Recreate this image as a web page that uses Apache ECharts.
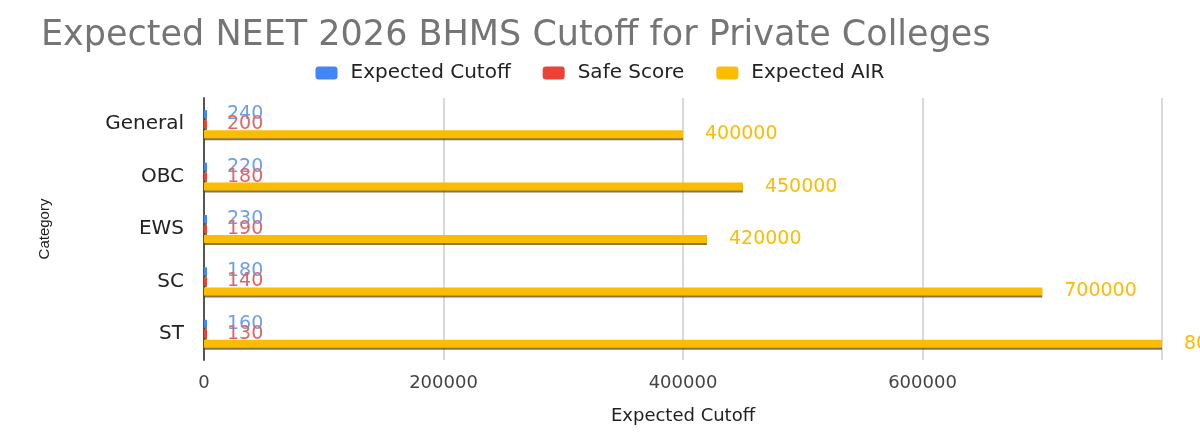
<!DOCTYPE html>
<html>
<head>
<meta charset="utf-8">
<script src="https://cdn.jsdelivr.net/npm/echarts@6/dist/echarts.min.js"></script>
<style>
  * { margin: 0; padding: 0; }
  body { background: #fff; }
</style>
</head>
<body>
<!-- chart container -->
<div id="main" style="width: 1200px;height: 442px;"></div>
<script>
  var categories = ['General', 'OBC', 'EWS', 'SC', 'ST'];
  var expectedCutoff = [240, 220, 230, 180, 160];
  var safeScore = [200, 180, 190, 140, 130];
  var expectedAIR = [400000, 450000, 420000, 700000, 800000];
  var xTicks = [0, 200000, 400000, 600000, 800000];

  var font = 'DejaVu Sans';

  function barSeries(name, data, color, labelColor, dist) {
    return {
      name: name,
      type: 'bar',
      data: data,
      barWidth: 8,
      barGap: '25%',
      barMinHeight: 3,
      itemStyle: {
        color: color,
        shadowColor: 'rgba(90,60,0,0.7)',
        shadowOffsetY: 2
      },
      label: {
        show: true,
        position: 'right',
        distance: dist,
        color: labelColor,
        fontFamily: font,
        fontSize: 19
      }
    };
  }

  var chart = echarts.init(document.getElementById('main'));
  chart.setOption({
    animation: false,
    title: {
      text: 'Expected NEET 2026 BHMS Cutoff for Private Colleges',
      left: 36,
      top: 13,
      textStyle: {
        color: '#757575',
        fontFamily: font,
        fontWeight: 'normal',
        fontSize: 35
      }
    },
    legend: {
      top: 58,
      left: 'center',
      itemWidth: 22,
      itemHeight: 13,
      itemGap: 32,
      icon: 'roundRect',
      textStyle: { color: '#222', fontFamily: font, fontSize: 20, padding: [0, 0, 0, 8] },
      data: ['Expected Cutoff', 'Safe Score', 'Expected AIR']
    },
    grid: {
      left: 204,
      right: 38,
      top: 98,
      bottom: 82
    },
    xAxis: {
      type: 'value',
      min: xTicks[0],
      max: xTicks[xTicks.length - 1],
      interval: xTicks[1] - xTicks[0],
      name: 'Expected Cutoff',
      nameLocation: 'middle',
      nameGap: 47,
      nameTextStyle: { color: '#222', fontFamily: font, fontSize: 18 },
      axisLine: { show: false },
      axisTick: { show: false },
      axisLabel: {
        color: '#444',
        fontFamily: font,
        fontSize: 18,
        margin: 14,
        showMaxLabel: false,
        formatter: function (v) { return String(v); }
      },
      splitLine: { lineStyle: { color: '#d9d9d9', width: 2 } }
    },
    yAxis: {
      type: 'category',
      inverse: true,
      data: categories,
      name: 'Category',
      nameLocation: 'middle',
      nameGap: 152,
      nameRotate: 90,
      nameTextStyle: { color: '#222', fontFamily: 'Liberation Sans', fontSize: 15 },
      axisLine: { lineStyle: { color: '#555', width: 2 } },
      axisTick: { show: false },
      axisLabel: { color: '#222', fontFamily: font, fontSize: 20, margin: 20 }
    },
    series: [
      barSeries('Expected Cutoff', expectedCutoff, '#4285f4', '#6d9eeb', 20),
      barSeries('Safe Score', safeScore, '#ea4335', '#e06666', 20),
      barSeries('Expected AIR', expectedAIR, '#fbbc04', '#fbbc04', 22)
    ]
  });
</script>
</body>
</html>
